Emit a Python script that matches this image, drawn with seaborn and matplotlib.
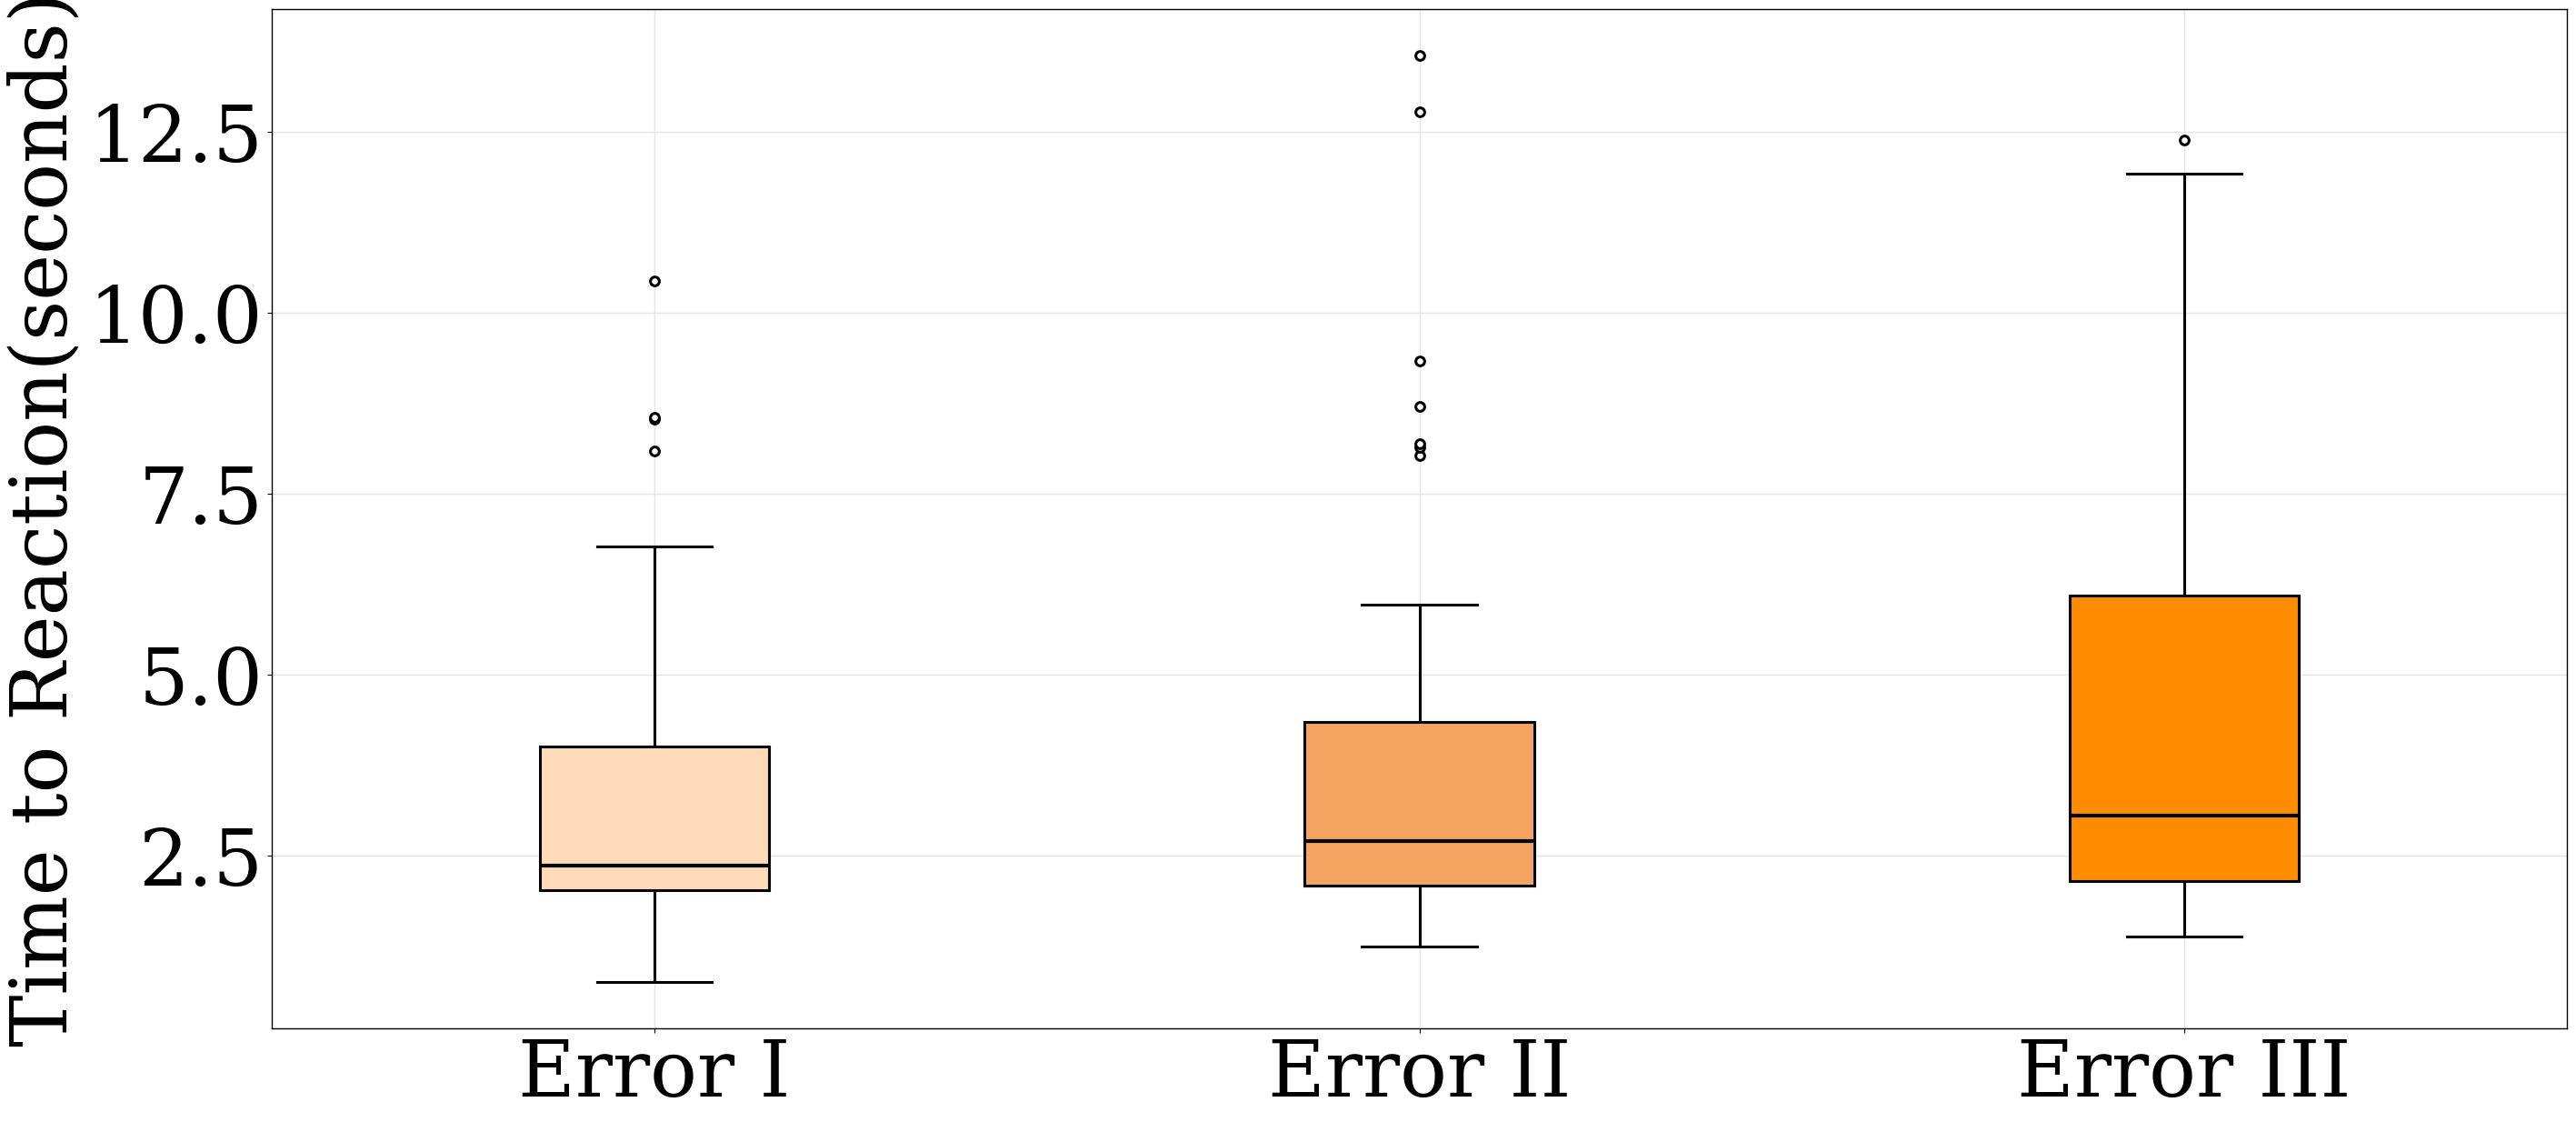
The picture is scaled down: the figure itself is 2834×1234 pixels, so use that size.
import numpy as np
import pandas as pd
import matplotlib
matplotlib.use("Agg")
import matplotlib.pyplot as plt
import seaborn as sns

# reaction times per error type (whiskers, quartiles and outliers;
# the in-between values are estimates, they only set the box statistics)
categories = ["Error I", "Error II", "Error III"]

error_1 = [0.755, 1.21, 1.55, 1.78, 1.93,
           2.03, 2.08, 2.15, 2.22, 2.30,
           2.37, 2.61, 2.95, 3.38, 3.72,
           4.01, 6.77,
           8.09, 8.53, 8.56, 10.44]

error_2 = [1.24, 1.45, 1.62, 1.75, 1.86, 1.95, 2.01, 2.05,
           2.09, 2.15, 2.24, 2.33, 2.42, 2.51, 2.60, 2.66,
           2.70, 2.85, 3.05, 3.30, 3.55, 3.80, 4.05, 4.25,
           4.35, 5.97,
           8.03, 8.15, 8.20, 8.71, 9.34, 12.78, 13.56]

error_3 = [1.39, 1.80, 2.15, 2.60, 3.06, 4.50, 6.09, 11.92, 12.39]

colors = ["peachpuff", "sandybrown", "darkorange"]

df = pd.DataFrame({
    "Error": ["Error I"] * len(error_1) + ["Error II"] * len(error_2) + ["Error III"] * len(error_3),
    "Time": error_1 + error_2 + error_3,
})

plt.rcParams["font.family"] = ["DejaVu Serif"]

fig, ax = plt.subplots(figsize=(28.34, 12.34), dpi=100)
fig.subplots_adjust(left=299 / 2834, right=2824 / 2834, top=1 - 10 / 1234, bottom=1 - 1131 / 1234)

sns.boxplot(
    data=df,
    x="Error",
    y="Time",
    hue="Error",
    order=categories,
    hue_order=categories,
    palette=colors,
    width=0.3,
    linewidth=2.2,
    linecolor="black",
    saturation=1,
    legend=False,
    medianprops=dict(color="black", linewidth=3),
    flierprops=dict(marker="o", markerfacecolor="white", markeredgecolor="black",
                    markersize=7, markeredgewidth=2.2),
    ax=ax,
)

ax.set_axisbelow(True)
ax.grid(True, color="#e5e5e5", linewidth=1)
ax.set_xlim(-0.5, 2.5)
ax.set_xlabel("")
ax.set_ylabel("Time to Reaction(seconds)", fontsize=62)
ax.yaxis.set_label_coords(-0.082, 0.5)
ax.tick_params(axis="both", labelsize=62)
for s in ax.spines.values():
    s.set_color("black")
    s.set_linewidth(1.0)

plt.savefig("out.png", dpi=100)
plt.close()
